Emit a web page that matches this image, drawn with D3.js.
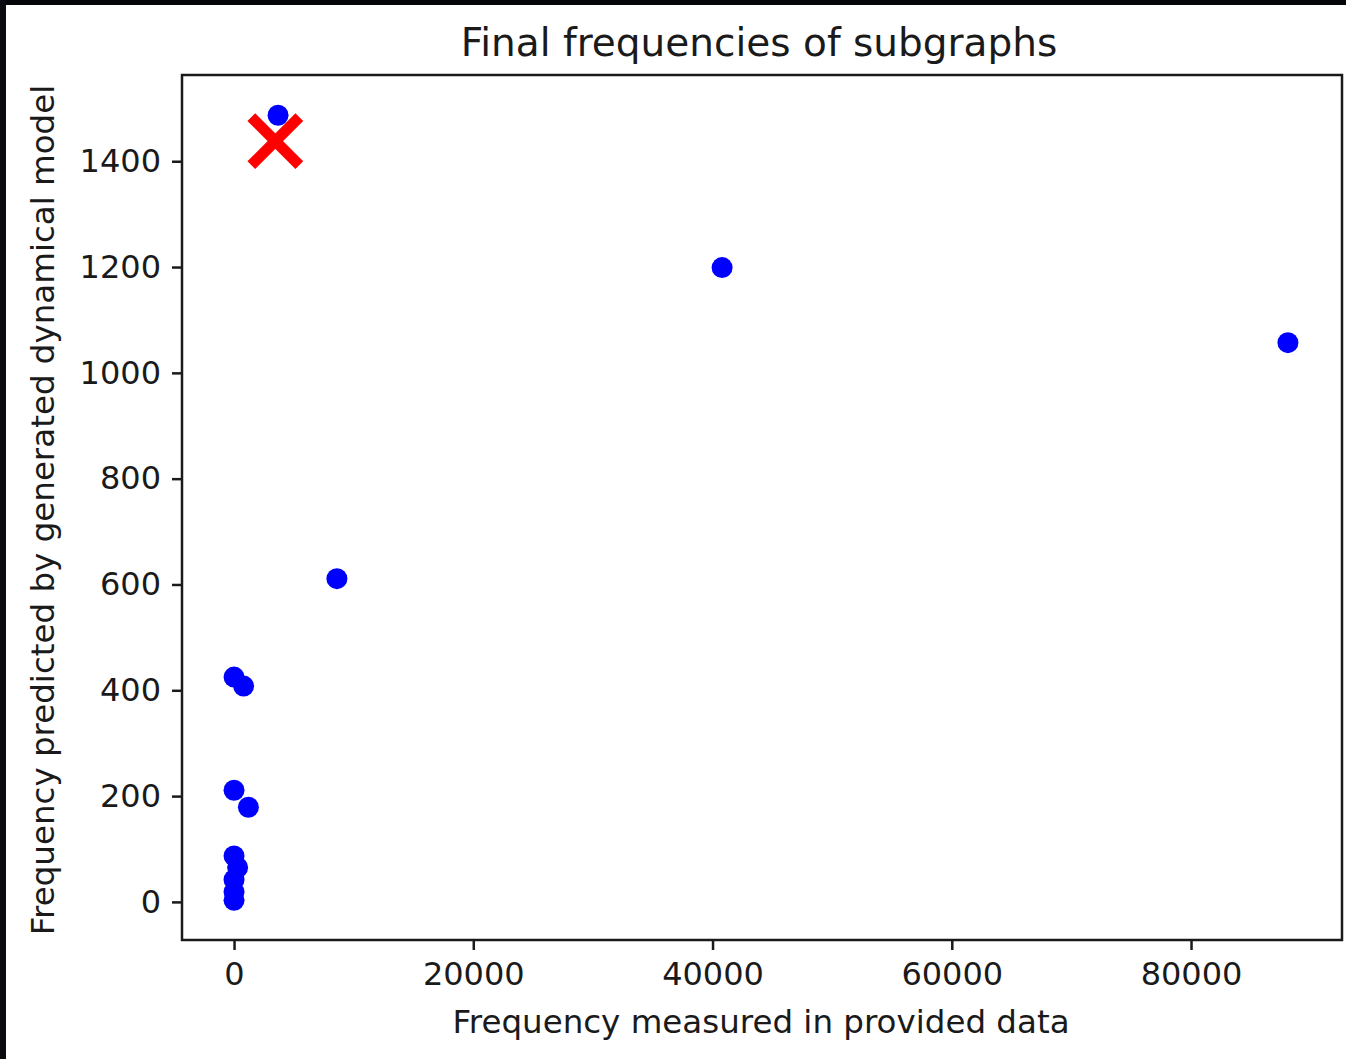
<!DOCTYPE html>
<html>
<head>
<meta charset="utf-8">
<script src="https://cdn.jsdelivr.net/npm/d3@7"></script>
<style>
  html, body { margin: 0; padding: 0; background: #fff; }
  svg { display: block; }
  text { font-family: "DejaVu Sans", sans-serif; fill: #1a1a1a; }
</style>
</head>
<body>
<script>
// Data
const measured  = [3680, 40800, 88100, 8600, 0, 800, 0, 1200, 0, 300, 0, 0, 0];
const predicted = [1487, 1199, 1057, 611, 425, 408, 211, 179, 87, 65, 42, 19, 3];
const highlightX = [3450];
const highlightY = [1438];
const xTicks = [0, 20000, 40000, 60000, 80000];
const yTicks = [0, 200, 400, 600, 800, 1000, 1200, 1400];
const titleText = "Final frequencies of subgraphs";
const xLabelText = "Frequency measured in provided data";
const yLabelText = "Frequency predicted by generated dynamical model";

const W = 1346, H = 1059;
const plot = { left: 182, right: 1342, top: 75, bottom: 940 };

const svg = d3.select("body").append("svg").attr("width", W).attr("height", H);
svg.append("rect").attr("width", W).attr("height", H).attr("fill", "#fff");
// dark screenshot border
svg.append("rect").attr("x", 0).attr("y", 0).attr("width", W).attr("height", 5).attr("fill", "#05060a");
svg.append("rect").attr("x", 0).attr("y", 0).attr("width", 6).attr("height", H).attr("fill", "#0a0b10");

const x = d3.scaleLinear().domain([-4350, 92620]).range([plot.left, plot.right]);
const y = d3.scaleLinear().domain([-72, 1563]).range([plot.bottom, plot.top]);

const clipId = "clip";
svg.append("clipPath").attr("id", clipId).append("rect")
  .attr("x", plot.left).attr("y", plot.top)
  .attr("width", plot.right - plot.left).attr("height", plot.bottom - plot.top);

const pts = measured.map((m, i) => ({ x: m, y: predicted[i] }));
svg.append("g").attr("clip-path", `url(#${clipId})`)
  .selectAll("circle").data(pts).join("circle")
  .attr("cx", d => x(d.x)).attr("cy", d => y(d.y)).attr("r", 10.5)
  .attr("fill", "#0000ff");

// red X marker
const hx = highlightX.map((v, i) => ({ x: v, y: highlightY[i] }));
const s = 24;
const xg = svg.append("g");
hx.forEach(d => {
  const cx = x(d.x), cy = y(d.y);
  xg.append("line").attr("x1", cx - s).attr("y1", cy - s).attr("x2", cx + s).attr("y2", cy + s)
    .attr("stroke", "#ff0000").attr("stroke-width", 11);
  xg.append("line").attr("x1", cx - s).attr("y1", cy + s).attr("x2", cx + s).attr("y2", cy - s)
    .attr("stroke", "#ff0000").attr("stroke-width", 11);
});

// axes
const xAxis = d3.axisBottom(x).tickValues(xTicks).tickFormat(d3.format("d")).tickSize(10).tickPadding(12);
const yAxis = d3.axisLeft(y).tickValues(yTicks).tickFormat(d3.format("d")).tickSize(10).tickPadding(11);

const gx = svg.append("g").attr("transform", `translate(0,${plot.bottom})`).call(xAxis);
const gy = svg.append("g").attr("transform", `translate(${plot.left},0)`).call(yAxis);
[gx, gy].forEach(g => {
  g.select(".domain").remove();
  g.selectAll(".tick line").attr("stroke", "#1a1a1a").attr("stroke-width", 2.5);
  g.selectAll(".tick text").attr("font-size", 32).attr("fill", "#1a1a1a")
    .style("font-family", "'DejaVu Sans', sans-serif");
});

// frame
svg.append("rect").attr("x", plot.left).attr("y", plot.top)
  .attr("width", plot.right - plot.left).attr("height", plot.bottom - plot.top)
  .attr("fill", "none").attr("stroke", "#1a1a1a").attr("stroke-width", 2.5);

// title and labels
svg.append("text").attr("x", 759).attr("y", 56)
  .attr("text-anchor", "middle").attr("font-size", 39).text(titleText);
svg.append("text").attr("x", 761).attr("y", 1033)
  .attr("text-anchor", "middle").attr("font-size", 32.5).text(xLabelText);
svg.append("text").attr("transform", `translate(54,510) rotate(-90)`)
  .attr("text-anchor", "middle").attr("font-size", 32.5).text(yLabelText);
</script>
</body>
</html>
